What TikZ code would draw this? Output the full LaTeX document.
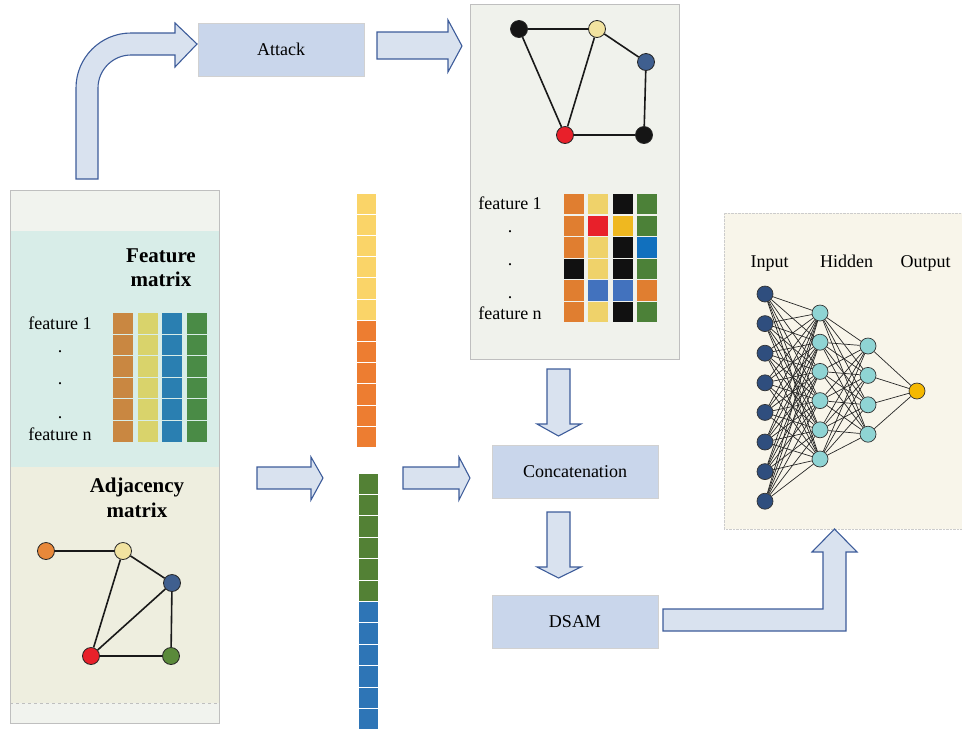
\documentclass[tikz,border=0pt]{standalone}
\usepackage{fontspec}
\setmainfont{Liberation Serif}
\usetikzlibrary{arrows.meta}

\definecolor{panelgray}{HTML}{F1F3EE}
\definecolor{featbg}{HTML}{D8EDE8}
\definecolor{adjbg}{HTML}{EEEEDF}
\definecolor{toppanel}{HTML}{F0F2EC}
\definecolor{nnbg}{HTML}{F8F5EA}
\definecolor{boxblue}{HTML}{C9D6EB}
\definecolor{arrowfill}{HTML}{D9E2EF}
\definecolor{arrowline}{HTML}{3D5C9A}
\definecolor{fo}{HTML}{C98741}
\definecolor{fy}{HTML}{D9D36B}
\definecolor{fb}{HTML}{2A7FB1}
\definecolor{fg}{HTML}{4A8B46}
\definecolor{mo}{HTML}{E07E30}
\definecolor{my}{HTML}{EFD26A}
\definecolor{mk}{HTML}{111111}
\definecolor{mg}{HTML}{4C8138}
\definecolor{mr}{HTML}{E8202A}
\definecolor{mgold}{HTML}{EFB820}
\definecolor{mb}{HTML}{1170BE}
\definecolor{ml}{HTML}{4272BE}
\definecolor{vy}{HTML}{FAD468}
\definecolor{vo}{HTML}{ED7D31}
\definecolor{vg}{HTML}{538135}
\definecolor{vb}{HTML}{2E75B6}
\definecolor{gorange}{HTML}{E8883A}
\definecolor{gyellow}{HTML}{F2E3A0}
\definecolor{gblue}{HTML}{3F5F8F}
\definecolor{gred}{HTML}{E8202A}
\definecolor{ggreen}{HTML}{5A8A3A}
\definecolor{gblack}{HTML}{151515}
\definecolor{nin}{HTML}{2F4E7E}
\definecolor{nhid}{HTML}{8FD4D4}
\definecolor{nout}{HTML}{F5B800}

\begin{document}
\begin{tikzpicture}[x=1pt,y=-1pt,font=\fontsize{18}{21}\selectfont,
  blockarrow/.style={fill=arrowfill,draw=arrowline,line width=1.1pt,line join=miter},
  procbox/.style={fill=boxblue,draw=black!18,line width=0.8pt,minimum width=166pt,minimum height=53pt},
  gnode/.style={circle,draw=black!85,line width=0.8pt,minimum size=17pt,inner sep=0pt},
  nnode/.style={circle,draw=black!80,line width=0.7pt,minimum size=16pt,inner sep=0pt},
  gedge/.style={line width=1.6pt,black!90},
  nedge/.style={line width=0.7pt,black!85},
  cell/.style={draw=white,line width=0.9pt},
  bighead/.style={font=\bfseries\fontsize{21}{24}\selectfont,anchor=base}]
\useasboundingbox (0,0) rectangle (962,732);

\fill[panelgray] (10,190) rectangle (219,723);
\fill[featbg] (10,231) rectangle (219,467);
\fill[adjbg] (10,467) rectangle (219,703);
\draw[black!25,dashed] (10,703) -- (219,703);
\draw[black!25,line width=0.8pt] (10,190) rectangle (219,723);
\fill[toppanel] (470,4) rectangle (679,359);
\draw[black!25,line width=0.8pt] (470,4) rectangle (679,359);
\fill[nnbg] (724,213) rectangle (962,529);
\draw[black!20,densely dotted] (962,213) -- (724,213) -- (724,529) -- (962,529);

\node[bighead] (feat) at (161,262) {Feature};
\node[bighead] at (161,286) {matrix};
\node[anchor=base] (f1) at (60,329) {feature 1};
\foreach \y in {352,384,418} \node[anchor=base] at (60,\y) {.};
\node[anchor=base] (fn) at (60,440) {feature n};
\foreach \c [count=\i from 0] in {fo,fy,fb,fg}
  \foreach \r in {0,...,5}
    \fill[\c] (113+24.6*\i,313+21.6*\r) rectangle +(20,20.6);

\node[bighead] (adj) at (137,492) {Adjacency};
\node[bighead] at (137,517) {matrix};
\node[gnode,fill=gorange] (ao) at (46,551) {};
\node[gnode,fill=gyellow] (ay) at (123,551) {};
\node[gnode,fill=gblue] (ab) at (172,583) {};
\node[gnode,fill=gred] (ar) at (91,656) {};
\node[gnode,fill=ggreen] (ag) at (171,656) {};
\draw[gedge] (ao) -- (ay) (ay) -- (ab) (ay) -- (ar) (ar) -- (ab) (ar) -- (ag) (ab) -- (ag);

\node[gnode,fill=gblack] (tk1) at (519,29) {};
\node[gnode,fill=gyellow] (ty) at (597,29) {};
\node[gnode,fill=gblue] (tb) at (646,62) {};
\node[gnode,fill=gred] (tr) at (565,135) {};
\node[gnode,fill=gblack] (tk2) at (644,135) {};
\draw[gedge] (tk1) -- (ty) (tk1) -- (tr) (ty) -- (tr) (ty) -- (tb) (tb) -- (tk2) (tr) -- (tk2);

\node[anchor=base] (t1) at (510,209) {feature 1};
\foreach \y in {232,265,298} \node[anchor=base] at (510,\y) {.};
\node[anchor=base] (tn) at (510,319) {feature n};
\foreach \row [count=\r from 0] in {{mo,my,mk,mg},{mo,mr,mgold,mg},{mo,my,mk,mb},{mk,my,mk,mg},{mo,ml,ml,mo},{mo,my,mk,mg}}
  \foreach \c [count=\i from 0] in \row
    \fill[\c] (564+24.4*\i,194+21.6*\r) rectangle +(20,20.4);

\foreach \c [count=\i from 0] in {vy,vy,vy,vy,vy,vy,vo,vo,vo,vo,vo,vo}
  \filldraw[cell,fill=\c] (356,193+21.2*\i) rectangle +(20,21.2);
\foreach \c [count=\i from 0] in {vg,vg,vg,vg,vg,vg,vb,vb,vb,vb,vb,vb}
  \filldraw[cell,fill=\c] (358,473+21.4*\i) rectangle +(20,21.4);

\node[procbox] (attack) at (281,49.5) {Attack};
\node[procbox] (concat) at (575,471.5) {Concatenation};
\node[procbox] (dsam) at (575,622) {DSAM};

\draw[blockarrow] (76,179) -- (76,88) .. controls (76,57.6) and (100.6,33) .. (131,33) -- (175,33) -- (175,23) -- (197,44)
  -- (175,67) -- (175,55) -- (131,55) .. controls (112.8,55) and (98,69.8) .. (98,88) -- (98,179) -- cycle;
\draw[blockarrow] (377,32) -- (448,32) -- (448,20) -- (462,46) -- (448,72) -- (448,59) -- (377,59) -- cycle;
\draw[blockarrow] (257,467) -- (311,467) -- (311,457) -- (323,478) -- (311,500) -- (311,489) -- (257,489) -- cycle;
\draw[blockarrow] (403,467) -- (459,467) -- (459,457) -- (470,478) -- (459,500) -- (459,489) -- (403,489) -- cycle;
\draw[blockarrow] (547,369) -- (570,369) -- (570,424) -- (581,424) -- (558.5,436) -- (537,424) -- (547,424) -- cycle;
\draw[blockarrow] (547,512) -- (570,512) -- (570,567) -- (581,567) -- (558.5,578) -- (537,567) -- (547,567) -- cycle;
\draw[blockarrow] (663,609) -- (823,609) -- (823,552) -- (812,552) -- (834.5,529) -- (857,552) -- (846,552) -- (846,631) -- (663,631) -- cycle;

\node[anchor=base] (inlbl) at (769.5,267) {Input};
\node[anchor=base] (hidlbl) at (846.5,267) {Hidden};
\node[anchor=base] (outlbl) at (925.5,267) {Output};
\foreach \i in {1,...,8} \node[nnode,fill=nin] (in\i) at (765,294+29.6*\i-29.6) {};
\foreach \i in {1,...,6} \node[nnode,fill=nhid] (h\i) at (820,313+29.2*\i-29.2) {};
\foreach \i in {1,...,4} \node[nnode,fill=nhid] (g\i) at (868,346+29.4*\i-29.4) {};
\node[nnode,fill=nout] (out) at (917,391) {};
\foreach \i in {1,...,8} \foreach \j in {1,...,6} \draw[nedge] (in\i) -- (h\j);
\foreach \i in {1,...,6} \foreach \j in {1,...,4} \draw[nedge] (h\i) -- (g\j);
\foreach \j in {1,...,4} \draw[nedge] (g\j) -- (out);
\end{tikzpicture}
\end{document}
